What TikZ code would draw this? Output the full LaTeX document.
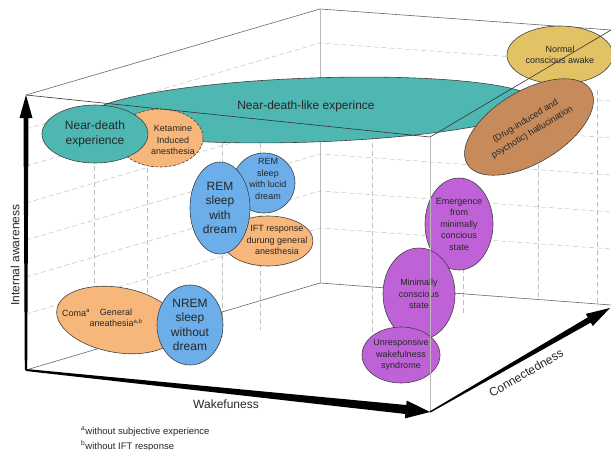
\documentclass[tikz,border=0pt]{standalone}
\usepackage{fontspec}
\setmainfont{Liberation Sans}
\usetikzlibrary{shapes.geometric}
\usetikzlibrary{calc}

\definecolor{tealst}{HTML}{4EB7B2}
\definecolor{orangest}{HTML}{F7B77A}
\definecolor{bluest}{HTML}{6CAEEA}
\definecolor{purplest}{HTML}{BF62D7}
\definecolor{yellowst}{HTML}{E2C265}
\definecolor{brownst}{HTML}{C78B5B}

\begin{document}
\begin{tikzpicture}[x=1pt,y=-1pt,
    ell/.style={ellipse,draw=black!75,line width=0.6pt,inner sep=0pt,align=center,text=black!85},
    lbl/.style={align=center,inner sep=0pt,text=black!85},
    smalltxt/.style={font=\fontsize{9}{11.5}\selectfont},
    bigtxt/.style={font=\fontsize{12}{14.5}\selectfont},
    gridline/.style={gray!50,line width=0.5pt,dash pattern=on 5pt off 3pt},
    backedge/.style={black!60,line width=0.6pt},
    frontedge/.style={black!80,line width=0.6pt},
    axis/.style={fill=black}]
\useasboundingbox (0,0) rectangle (611,450);

\coordinate (A) at (26,370);
\coordinate (B) at (430,412);
\coordinate (C) at (430,137);
\coordinate (D) at (26,95);
\coordinate (E) at (320,283);
\coordinate (F) at (320,9);
\coordinate (G) at (611,30);
\coordinate (H) at (611,305);
\coordinate (K) at (610,308);

\foreach \y in {129,166,203,240,277,314}
  \draw[gridline] (26,\y) -- (320,\y-86) -- (611,\y-65);
\foreach \x/\ya/\yb in {94/110/350,147/120/336,222/135/337,260/135/330,372/135/360,463/180/313,538/140/300,597/90/304}
  \draw[gridline] (\x,\ya) -- (\x,\yb);

\draw[backedge] (D) -- (F) -- (G);
\draw[gray!55,line width=0.6pt] (F) -- (E);
\draw[backedge] (A) -- (E) -- (H);

\node[ell,fill=tealst,minimum width=450pt,minimum height=64pt,rotate=2] (nearDeathLike) at (312,110) {};
\node[lbl,bigtxt] (nearDeathLikeTxt) at (306,106) {Near-death-like experince};
\node[ell,fill=orangest,dash pattern=on 3pt off 1.5pt,minimum width=86pt,minimum height=58pt] (ketamine) at (160,138) {};
\node[lbl,smalltxt] (ketamineTxt) at (173,140) {Ketamine\\Induced\\anesthesia};
\node[ell,fill=tealst,bigtxt,minimum width=106pt,minimum height=58pt] (nearDeath) at (95,134) {Near-death\\experience};

\node[ell,fill=bluest,minimum width=62pt,minimum height=60pt] (lucid) at (264,183) {};
\node[ell,fill=orangest,minimum width=90pt,minimum height=50pt] (ift) at (268,241) {};
\node[ell,fill=bluest,bigtxt,minimum width=60pt,minimum height=92pt] (remDream) at (220,208) {REM\\sleep\\with\\dream};
\node[lbl,smalltxt] (lucidTxt) at (268,179) {REM\\sleep\\with lucid\\dream};
\node[lbl,smalltxt] (iftTxt) at (277,240) {IFT response\\durung general\\anesthesia};

\node[ell,fill=orangest,minimum width=124pt,minimum height=65pt,rotate=-10] (coma) at (118,320) {};
\node[lbl,smalltxt] (comaTxt) at (76,313) {Coma\textsuperscript{a}};
\node[lbl,smalltxt] (generalTxt) at (116,318) {General\\aneathesia\textsuperscript{a,b}};
\node[ell,fill=bluest,bigtxt,minimum width=66pt,minimum height=80pt] (nrem) at (190,325) {NREM\\sleep\\without\\dream};

\node[ell,fill=yellowst,smalltxt,minimum width=106pt,minimum height=58pt] (normal) at (560,55) {Normal\\conscious awake};
\node[ell,fill=brownst,font=\fontsize{9}{13}\selectfont,minimum width=144pt,minimum height=72pt,rotate=31] (halluc) at (529,127) {(Drug-induced and\\psychotic) hallucination};
\node[ell,fill=purplest,smalltxt,minimum width=68pt,minimum height=92pt] (emergence) at (459,224) {Emergence\\from\\minimally\\concious\\state};
\node[ell,fill=purplest,smalltxt,minimum width=72pt,minimum height=92pt] (minimal) at (419,294) {Minimally\\conscious\\state};
\node[ell,fill=purplest,smalltxt,minimum width=78pt,minimum height=56pt] (uws) at (401,355) {Unresponsive\\wakefulness\\syndrome};

\draw[frontedge] (D) -- (C) -- (G);
\draw[gray!55,line width=0.6pt] (C) -- (B);

\coordinate (VB) at ($(A)!0.916!(D)$);
\coordinate (WB) at ($(A)!0.94!(B)$);
\coordinate (KB) at ($(B)!0.885!(K)$);
\fill[axis] ($(A)!1.2pt!90:(D)$) -- ($(VB)!2.5pt!90:(D)$) -- ($(VB)!6.5pt!90:(D)$) -- (D)
  -- ($(VB)!6.5pt!-90:(D)$) -- ($(VB)!2.5pt!-90:(D)$) -- ($(A)!1.2pt!-90:(D)$) -- cycle;
\fill[axis] ($(A)!1pt!90:(B)$) -- ($(WB)!4.5pt!90:(B)$) -- ($(WB)!9pt!90:(B)$) -- (B)
  -- ($(WB)!9pt!-90:(B)$) -- ($(WB)!4.5pt!-90:(B)$) -- ($(A)!1pt!-90:(B)$) -- cycle;
\fill[axis] ($(B)!0.7pt!90:(K)$) -- ($(KB)!3pt!90:(K)$) -- ($(KB)!7pt!90:(K)$) -- (K)
  -- ($(KB)!7pt!-90:(K)$) -- ($(KB)!3pt!-90:(K)$) -- ($(B)!0.7pt!-90:(K)$) -- cycle;

\node[lbl,bigtxt,rotate=90] (awareLbl) at (15,255) {Internal awareness};
\node[lbl,bigtxt] (wakeLbl) at (226,404) {Wakefuness};
\node[lbl,bigtxt,rotate=30] (connLbl) at (526,373) {Connectedness};
\node[lbl,font=\fontsize{9.5}{11.5}\selectfont,anchor=west] (noteA) at (81,432) {\textsuperscript{a}without subjective experience};
\node[lbl,font=\fontsize{9.5}{11.5}\selectfont,anchor=west] (noteB) at (81,446) {\textsuperscript{b}without IFT response};
\end{tikzpicture}
\end{document}
